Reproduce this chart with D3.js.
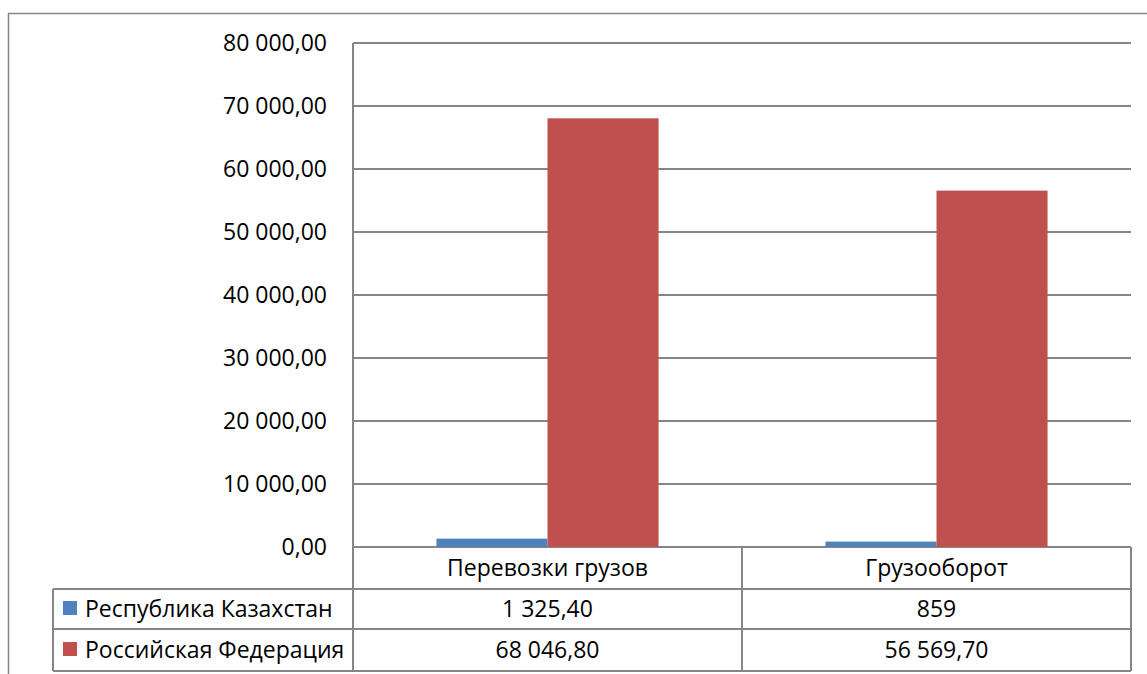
<!DOCTYPE html>
<html>
<head>
<meta charset="utf-8">
<script src="https://cdn.jsdelivr.net/npm/d3@7"></script>
<style>
  html, body { margin: 0; padding: 0; background: #fff; }
  svg { display: block; }
  text { font-family: "Open Sans", "Liberation Sans", sans-serif; fill: #000; }
</style>
</head>
<body>
<svg id="chart" width="1147" height="674"></svg>
<script>
// Categories, series and their values
const categories = ["Перевозки грузов", "Грузооборот"];
const seriesNames = ["Республика Казахстан", "Российская Федерация"];
const kazakhstan = [1325.40, 859];
const russia = [68046.80, 56569.70];
const seriesColors = ["#4F81BD", "#C0504D"];
const yTicks = [0, 10000, 20000, 30000, 40000, 50000, 60000, 70000, 80000];

const seriesValues = [kazakhstan, russia];

// Russian number format: space as thousands separator, comma as decimal mark
const ru = d3.formatLocale({ decimal: ",", thousands: " ", grouping: [3], currency: ["", ""] });
const fmt2 = ru.format(",.2f");
const fmtCell = v => Number.isInteger(v) ? ru.format(",d")(v) : fmt2(v);

const svg = d3.select("#chart");
const W = 1147, H = 674;
const plotL = 353, plotR = 1131, plotT = 43, plotB = 547;
const rowH = [547, 589, 629, 671];
const tableL = 53;
const gridColor = "#868686";
const fontSize = 23;

// Outer chart frame
svg.append("rect")
  .attr("x", 8.5).attr("y", 13.5)
  .attr("width", W + 10).attr("height", H + 10)
  .attr("fill", "none").attr("stroke", gridColor).attr("stroke-width", 1.5);

const x = d3.scaleBand().domain(categories).range([plotL, plotR]).padding(0);
const x1 = d3.scaleBand().domain(seriesNames)
  .range([x.bandwidth() * 0.2145, x.bandwidth() * 0.7855]).padding(0);
const y = d3.scaleLinear().domain([0, 80000]).range([plotB, plotT]);

// Horizontal gridlines
svg.append("g").selectAll("line").data(yTicks).join("line")
  .attr("x1", plotL).attr("x2", plotR)
  .attr("y1", d => y(d)).attr("y2", d => y(d))
  .attr("stroke", gridColor).attr("stroke-width", 2);

// Y tick labels
svg.append("g").selectAll("text").data(yTicks).join("text")
  .attr("x", 327).attr("y", d => y(d) + 8)
  .attr("text-anchor", "end")
  .style("font-size", fontSize + "px")
  .text(d => fmt2(d));

// Bars
const groups = svg.append("g").selectAll("g").data(categories).join("g")
  .attr("transform", c => `translate(${x(c)},0)`);
groups.selectAll("rect")
  .data((c, ci) => seriesNames.map((s, si) => ({ s, si, v: seriesValues[si][ci] })))
  .join("rect")
  .attr("x", d => x1(d.s))
  .attr("width", x1.bandwidth())
  .attr("y", d => y(d.v))
  .attr("height", d => y(0) - y(d.v))
  .attr("fill", d => seriesColors[d.si]);

// Data table
const tbl = svg.append("g");
const line = (x1_, y1_, x2_, y2_) => tbl.append("line")
  .attr("x1", x1_).attr("y1", y1_).attr("x2", x2_).attr("y2", y2_)
  .attr("stroke", gridColor).attr("stroke-width", 2);

// value axis line continuing down as the first table column divider
line(plotL, plotT, plotL, rowH[3]);
line(plotR, plotB, plotR, rowH[3]);
categories.forEach((c, i) => { if (i > 0) line(x(c), plotB, x(c), rowH[3]); });
line(tableL, rowH[1], tableL, rowH[3]);
line(tableL, rowH[1], plotR, rowH[1]);
line(tableL, rowH[2], plotR, rowH[2]);
line(tableL, rowH[3], plotR, rowH[3]);

// Header row: category names
tbl.selectAll("text.cat").data(categories).join("text")
  .attr("class", "cat")
  .attr("x", c => x(c) + x.bandwidth() / 2)
  .attr("y", (rowH[0] + rowH[1]) / 2 + 8)
  .attr("text-anchor", "middle")
  .style("font-size", fontSize + "px")
  .text(c => c);

// Series rows: legend key + values
seriesNames.forEach((s, si) => {
  const cy = (rowH[si + 1] + rowH[si + 2]) / 2;
  tbl.append("rect")
    .attr("x", 63).attr("y", cy - 8).attr("width", 14).attr("height", 14)
    .attr("fill", seriesColors[si]);
  tbl.append("text")
    .attr("x", 85).attr("y", cy + 8)
    .style("font-size", fontSize + "px")
    .text(s);
  tbl.selectAll(null).data(categories).join("text")
    .attr("x", c => x(c) + x.bandwidth() / 2)
    .attr("y", cy + 8)
    .attr("text-anchor", "middle")
    .style("font-size", fontSize + "px")
    .text((c, ci) => fmtCell(seriesValues[si][ci]));
});
</script>
</body>
</html>
